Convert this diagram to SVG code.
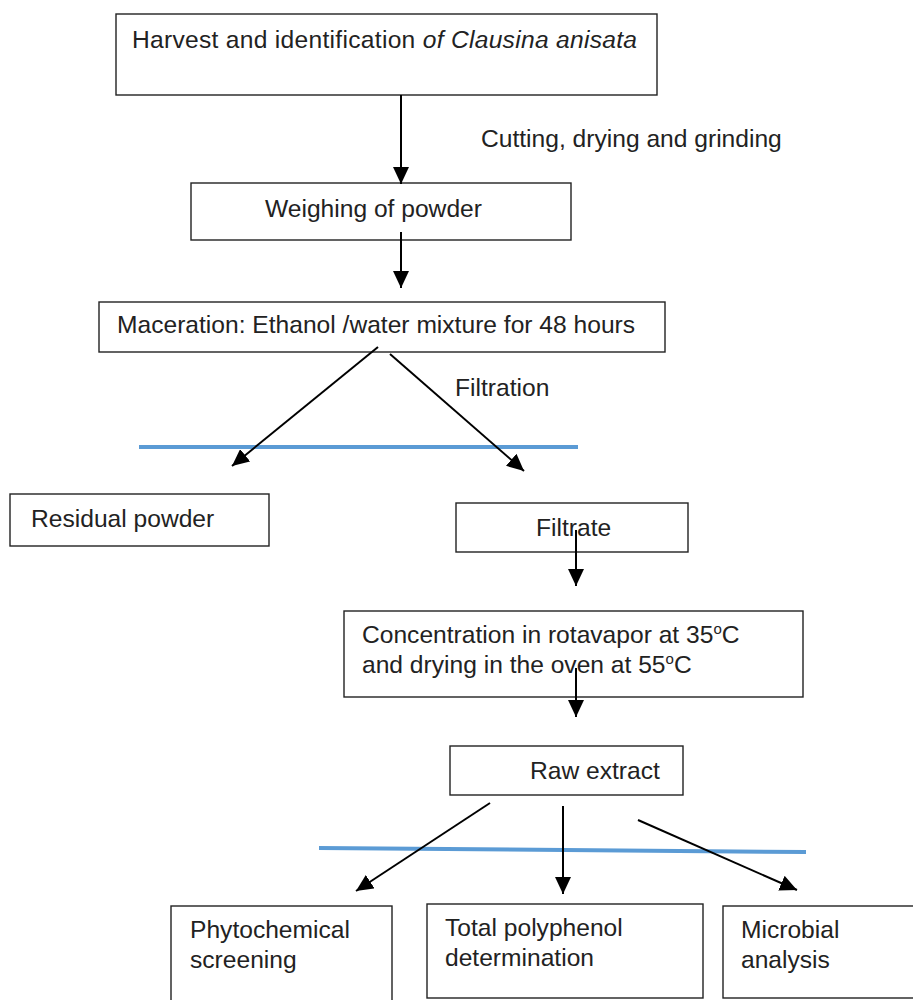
<svg xmlns="http://www.w3.org/2000/svg" width="913" height="1000" viewBox="0 0 913 1000">
<defs>
<marker id="ah" markerUnits="userSpaceOnUse" markerWidth="18" markerHeight="16" refX="17" refY="8" orient="auto">
<path d="M0,0 L17,8 L0,16 Z" fill="#000"/>
</marker>
<style>
.box{fill:#fff;stroke:#222;stroke-width:1.4}
.t{font-family:"Liberation Sans",Arial,sans-serif;font-size:24.6px;fill:#222}
.c{stroke:#000;stroke-width:2;fill:none;marker-end:url(#ah)}
.blue{stroke:#5b9bd5;stroke-width:4;fill:none}
</style>
</defs>
<rect width="913" height="1000" fill="#fff"/>
<g id="sep">
<line class="blue" x1="139" y1="447" x2="578" y2="447"/>
<path class="blue" d="M319,848 L806,852"/>
</g>
<g id="n1"><rect class="box" x="116" y="14" width="541" height="81"/>
<text class="t" x="132" y="48" textLength="505" lengthAdjust="spacing">Harvest and identification <tspan font-style="italic">of Clausina anisata</tspan></text></g>
<g id="n2"><rect class="box" x="191" y="183" width="380" height="57"/>
<text class="t" x="265" y="217">Weighing of powder</text></g>
<g id="n3"><rect class="box" x="99" y="302" width="566" height="50"/>
<text class="t" x="117" y="333">Maceration: Ethanol /water mixture for 48 hours</text></g>
<g id="n4"><rect class="box" x="10" y="494" width="259" height="52"/>
<text class="t" x="31" y="527">Residual powder</text></g>
<g id="n5"><rect class="box" x="456" y="503" width="232" height="49"/>
<text class="t" x="536" y="536">Filtrate</text></g>
<g id="n6"><rect class="box" x="344" y="611" width="459" height="86"/>
<text class="t" x="362" y="643">Concentration in rotavapor at 35<tspan font-size="15" dy="-9">o</tspan><tspan dy="9">C</tspan></text>
<text class="t" x="362" y="673">and drying in the oven at 55<tspan font-size="15" dy="-9">o</tspan><tspan dy="9">C</tspan></text></g>
<g id="n7"><rect class="box" x="450" y="746" width="233" height="49"/>
<text class="t" x="530" y="779">Raw extract</text></g>
<g id="n8"><rect class="box" x="171" y="906" width="221" height="100"/>
<text class="t" x="190" y="938">Phytochemical</text><text class="t" x="190" y="968">screening</text></g>
<g id="n9"><rect class="box" x="427" y="904" width="276" height="94"/>
<text class="t" x="445" y="936">Total polyphenol</text><text class="t" x="445" y="966">determination</text></g>
<g id="n10"><rect class="box" x="723" y="906" width="200" height="92"/>
<text class="t" x="741" y="938">Microbial</text><text class="t" x="741" y="968">analysis</text></g>
<g id="labels">
<text class="t" x="481" y="147">Cutting, drying and grinding</text>
<text class="t" x="455" y="396">Filtration</text>
</g>
<g id="connectors">
<line class="c" x1="401" y1="95" x2="401" y2="184"/>
<line class="c" x1="401" y1="232" x2="401" y2="288"/>
<line class="c" x1="378" y1="347" x2="232" y2="466"/>
<line class="c" x1="390" y1="354" x2="524" y2="471"/>
<line class="c" x1="576" y1="530" x2="576" y2="586"/>
<line class="c" x1="576" y1="668" x2="576" y2="717"/>
<line class="c" x1="490" y1="803" x2="356" y2="891"/>
<line class="c" x1="563" y1="806" x2="563" y2="894"/>
<line class="c" x1="638" y1="820" x2="797" y2="890"/>
</g>
</svg>
